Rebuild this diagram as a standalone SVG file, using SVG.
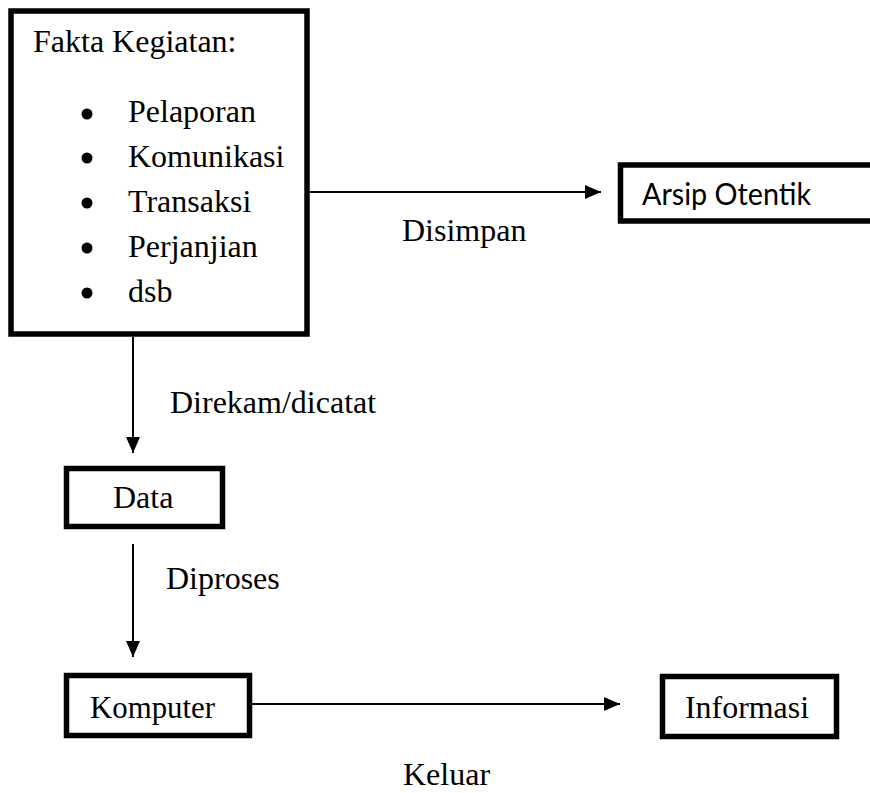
<svg xmlns="http://www.w3.org/2000/svg" width="870" height="793" viewBox="0 0 870 793">
<defs>
<style>
.box{fill:none;stroke:#000;stroke-width:5.5}
.t{font-family:"Liberation Serif","Times New Roman",serif;font-size:32px;fill:#000}
.c{font-family:Lato,"Open Sans",sans-serif;font-size:30px;fill:#000}
.ln{stroke:#000;stroke-width:2;fill:none}
</style>
<marker id="ah" viewBox="0 0 16 14" refX="16" refY="7" markerWidth="16" markerHeight="14" markerUnits="userSpaceOnUse" orient="auto">
<path d="M0,0 L16,7 L0,14 Z" fill="#000"/>
</marker>
</defs>
<rect width="870" height="793" fill="#fff"/>
<g id="fakta">
<rect class="box" x="11" y="11" width="296" height="323" stroke-width="6"/>
<text class="t" x="33" y="52">Fakta Kegiatan:</text>
<g fill="#000">
<circle cx="87" cy="114" r="5.5"/>
<circle cx="87" cy="158" r="5.5"/>
<circle cx="87" cy="203" r="5.5"/>
<circle cx="87" cy="248" r="5.5"/>
<circle cx="87" cy="293" r="5.5"/>
</g>
<text class="t" x="128" y="122">Pelaporan</text>
<text class="t" x="128" y="167">Komunikasi</text>
<text class="t" x="128" y="212">Transaksi</text>
<text class="t" x="128" y="257">Perjanjian</text>
<text class="t" x="128" y="302">dsb</text>
</g>
<g id="arsip">
<path class="box" d="M875,165 H620.5 V221 H875"/>
<text class="c" x="642" y="205" textLength="169" lengthAdjust="spacingAndGlyphs">Arsip Otentik</text>
</g>
<g id="data">
<rect class="box" x="66.5" y="468.5" width="156" height="58"/>
<text class="t" x="113" y="508">Data</text>
</g>
<g id="komputer">
<rect class="box" x="66.5" y="675.5" width="183" height="60"/>
<text class="t" x="90" y="718" textLength="125" lengthAdjust="spacingAndGlyphs">Komputer</text>
</g>
<g id="informasi">
<rect class="box" x="662.5" y="676.5" width="174" height="60"/>
<text class="t" x="685" y="718" textLength="124" lengthAdjust="spacingAndGlyphs">Informasi</text>
</g>
<g id="connectors">
<line class="ln" x1="310" y1="192" x2="601" y2="192" marker-end="url(#ah)"/>
<line class="ln" x1="133" y1="337" x2="133" y2="453" marker-end="url(#ah)"/>
<line class="ln" x1="133" y1="544" x2="133" y2="657" marker-end="url(#ah)"/>
<line class="ln" x1="252" y1="704" x2="620" y2="704" marker-end="url(#ah)"/>
<text class="t" x="402" y="241">Disimpan</text>
<text class="t" x="170" y="413">Direkam/dicatat</text>
<text class="t" x="166" y="589">Diproses</text>
<text class="t" x="403" y="785">Keluar</text>
</g>
</svg>
